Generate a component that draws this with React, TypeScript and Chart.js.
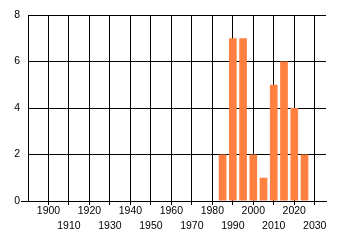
import React, { useEffect, useRef } from "react";
import { Chart, registerables } from "chart.js";

Chart.register(...registerables);

const years = [1985, 1990, 1995, 2000, 2005, 2010, 2015, 2020, 2025];
const counts = [2, 7, 7, 2, 1, 5, 6, 4, 2];
const xTickValues = [1900, 1910, 1920, 1930, 1940, 1950, 1960, 1970, 1980, 1990, 2000, 2010, 2020, 2030];
const yTickValues = [0, 2, 4, 6, 8];

export default function App() {
  const ref = useRef<HTMLCanvasElement | null>(null);
  useEffect(() => {
    document.body.style.margin = "0";
    const font = { family: "'Liberation Sans', Arial, sans-serif", size: 10.5, lineHeight: "15px" };
    const chart = new Chart(ref.current as HTMLCanvasElement, {
      type: "bar",
      data: {
        datasets: [
          {
            data: years.map((y, i) => ({ x: y, y: counts[i] })),
            backgroundColor: "#ff8040",
            borderWidth: 0,
            barPercentage: 1,
            categoryPercentage: 0.75,
          },
        ],
      },
      options: {
        animation: false,
        responsive: false,
        layout: { padding: { top: 15, right: 14, left: 0, bottom: 0 } },
        plugins: { legend: { display: false }, tooltip: { enabled: false } },
        scales: {
          x: {
            type: "linear",
            min: 1890,
            max: 2035.5,
            offset: false,
            grid: { offset: false, color: "#000", lineWidth: 1, tickLength: 4, drawTicks: true, tickColor: "#000" },
            border: { color: "#000", width: 1 },
            afterBuildTicks: (scale: any) => {
              scale.ticks = xTickValues.map((v) => ({ value: v }));
            },
            afterFit: (scale: any) => {
              scale.height = 44;
            },
            ticks: {
              autoSkip: false,
              maxRotation: 0,
              minRotation: 0,
              padding: -1,
              color: "#000",
              font,
              callback: (v: any) => {
                const n = Number(v);
                return ((n - 1900) / 10) % 2 === 0 ? [String(n), ""] : ["", String(n)];
              },
            },
          },
          y: {
            type: "linear",
            min: 0,
            max: 8,
            grid: {
              color: "#000",
              lineWidth: 1,
              drawTicks: true,
              tickLength: 7,
              tickColor: (ctx: any) => (ctx.tick && ctx.tick.value === 0 ? "#000" : "rgba(0,0,0,0)"),
            },
            border: { color: "#000", width: 1 },
            afterBuildTicks: (scale: any) => {
              scale.ticks = yTickValues.map((v) => ({ value: v }));
            },
            afterFit: (scale: any) => {
              scale.width = 28;
            },
            ticks: { padding: 1, color: "#000", font: { family: "'Liberation Sans', Arial, sans-serif", size: 10.5 } },
          },
        },
      },
    } as any);
    return () => chart.destroy();
  }, []);
  return (
    <div style={{ width: 340, height: 245 }}>
      <canvas ref={ref} width={340} height={245} />
    </div>
  );
}
